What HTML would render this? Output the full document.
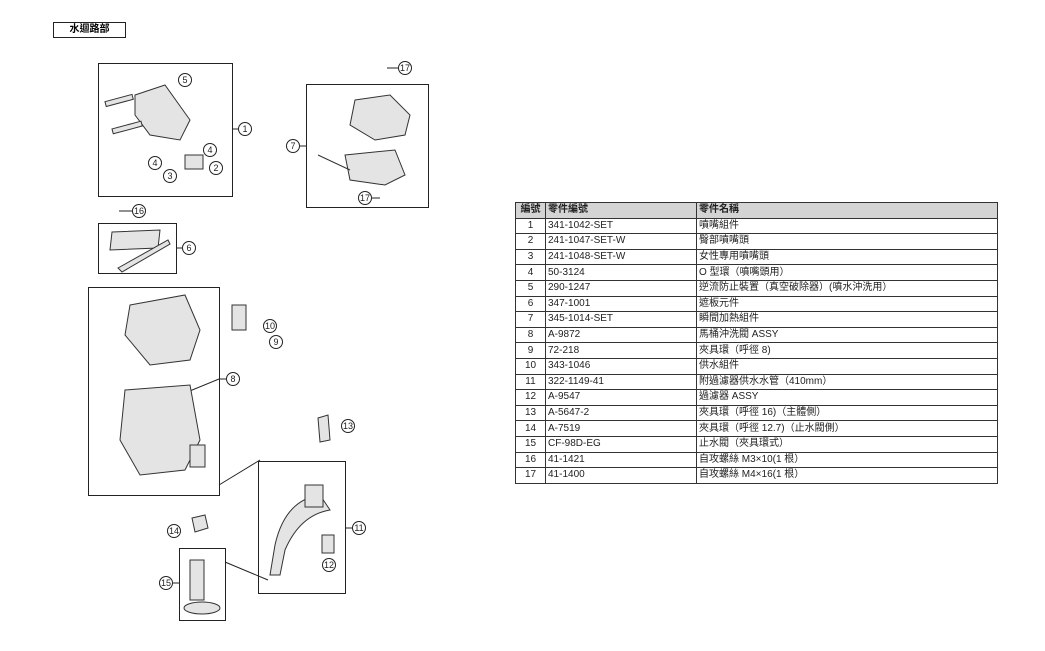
<!DOCTYPE html>
<html><head><meta charset="utf-8"><style>
body{margin:0;background:#fff;width:1045px;height:651px;position:relative;overflow:hidden;font-family:"Liberation Sans","Noto Sans CJK TC",sans-serif}
.t{position:absolute;left:515px;top:202px;border-collapse:collapse;font-size:10px;color:#222}
.t td{border:1px solid #333;height:14.6px;padding:0 2px;line-height:14px;white-space:nowrap;vertical-align:middle}
.t tr:first-child td{background:#d4d4d4;font-weight:bold}
.t td:nth-child(1){width:25px;text-align:center}
.t td:nth-child(2){width:146px}
.t td:nth-child(3){width:296px}
</style></head><body>
<div style="position:absolute;left:53px;top:22px;width:71px;height:14px;border:1px solid #222;font-size:10px;line-height:14px;text-align:center;font-weight:bold">水迴路部</div>
<svg width="1045" height="651" style="position:absolute;left:0;top:0" font-family="Liberation Sans" font-size="9" text-anchor="middle">
<g fill="none" stroke="#222" stroke-width="1">
<rect x="98.5" y="63.5" width="134" height="133"/>
<rect x="306.5" y="84.5" width="122" height="123"/>
<rect x="98.5" y="223.5" width="78" height="50"/>
<rect x="88.5" y="287.5" width="131" height="208"/>
<rect x="258.5" y="461.5" width="87" height="132"/>
<rect x="179.5" y="548.5" width="46" height="72"/>
<line x1="232" y1="129" x2="238" y2="129"/><line x1="300" y1="146" x2="306" y2="146"/>
<line x1="176" y1="248" x2="182" y2="248"/><line x1="219" y1="379" x2="226" y2="379"/>
<line x1="345" y1="528" x2="352" y2="528"/><line x1="173" y1="583" x2="179" y2="583"/>
<line x1="119" y1="211" x2="132" y2="211"/><line x1="387" y1="68" x2="399" y2="68"/>
<line x1="372" y1="198" x2="380" y2="198"/>
<line x1="219" y1="379" x2="180" y2="395"/>
<line x1="225" y1="562" x2="268" y2="580"/>
<line x1="219" y1="485" x2="260" y2="460"/>
</g>
<g fill="#fff" stroke="#222">
<circle cx="245" cy="129" r="6.5"/><circle cx="293" cy="146" r="6.5"/><circle cx="189" cy="248" r="6.5"/>
<circle cx="233" cy="379" r="6.5"/><circle cx="359" cy="528" r="6.5"/><circle cx="166" cy="583" r="6.5"/>
<circle cx="139" cy="211" r="6.5"/><circle cx="405" cy="68" r="6.5"/><circle cx="365" cy="198" r="6.5"/>
<circle cx="185" cy="80" r="6.5"/><circle cx="210" cy="150" r="6.5"/><circle cx="155" cy="163" r="6.5"/>
<circle cx="216" cy="168" r="6.5"/><circle cx="170" cy="176" r="6.5"/>
<circle cx="270" cy="326" r="6.5"/><circle cx="276" cy="342" r="6.5"/><circle cx="348" cy="426" r="6.5"/>
<circle cx="329" cy="565" r="6.5"/><circle cx="174" cy="531" r="6.5"/>
</g>
<g fill="#222">
<text x="245" y="132">1</text><text x="293" y="149">7</text><text x="189" y="251">6</text><text x="233" y="382">8</text>
<text x="359" y="531">11</text><text x="166" y="586">15</text><text x="139" y="214">16</text><text x="405" y="71">17</text>
<text x="365" y="201">17</text><text x="185" y="83">5</text><text x="210" y="153">4</text><text x="155" y="166">4</text>
<text x="216" y="171">2</text><text x="170" y="179">3</text><text x="270" y="329">10</text><text x="276" y="345">9</text>
<text x="348" y="429">13</text><text x="329" y="568">12</text><text x="174" y="534">14</text>
</g>
<g fill="#e4e4e4" stroke="#333" stroke-width="1">
<path d="M135 95 L165 85 L190 120 L180 140 L150 135 L135 115Z"/>
<rect x="105" y="98" width="28" height="5" transform="rotate(-15 119 100)"/>
<rect x="112" y="125" width="30" height="5" transform="rotate(-15 127 127)"/>
<rect x="185" y="155" width="18" height="14"/>
<path d="M355 100 L390 95 L410 115 L405 135 L375 140 L350 125Z"/>
<path d="M345 155 L395 150 L405 175 L385 185 L350 180Z"/>
<line x1="318" y1="155" x2="350" y2="170"/>
<path d="M112 232 L160 230 L158 248 L110 250Z"/>
<path d="M118 268 L168 240 L170 244 L122 272Z"/>
<path d="M130 305 L185 295 L200 330 L190 360 L150 365 L125 335Z"/>
<path d="M125 390 L190 385 L200 440 L185 470 L140 475 L120 440Z"/>
<rect x="190" y="445" width="15" height="22"/>
<rect x="232" y="305" width="14" height="25"/>
<path d="M275 545 Q285 500 320 495 L330 510 Q300 515 285 550 L280 575 L270 575Z"/>
<rect x="305" y="485" width="18" height="22"/>
<rect x="322" y="535" width="12" height="18"/>
<rect x="190" y="560" width="14" height="40"/>
<ellipse cx="202" cy="608" rx="18" ry="6"/>
<path d="M192 518 L205 515 L208 528 L195 532Z"/>
<path d="M318 418 L328 415 L330 440 L320 442Z"/>
</g>
</svg>
<table class="t">
<tr><td>編號</td><td>零件編號</td><td>零件名稱</td></tr>
<tr><td>1</td><td>341-1042-SET</td><td>噴嘴組件</td></tr>
<tr><td>2</td><td>241-1047-SET-W</td><td>臀部噴嘴頭</td></tr>
<tr><td>3</td><td>241-1048-SET-W</td><td>女性專用噴嘴頭</td></tr>
<tr><td>4</td><td>50-3124</td><td>O 型環（噴嘴頭用）</td></tr>
<tr><td>5</td><td>290-1247</td><td>逆流防止裝置（真空破除器）(噴水沖洗用）</td></tr>
<tr><td>6</td><td>347-1001</td><td>遮板元件</td></tr>
<tr><td>7</td><td>345-1014-SET</td><td>瞬間加熱組件</td></tr>
<tr><td>8</td><td>A-9872</td><td>馬桶沖洗閥 ASSY</td></tr>
<tr><td>9</td><td>72-218</td><td>夾具環（呼徑 8)</td></tr>
<tr><td>10</td><td>343-1046</td><td>供水組件</td></tr>
<tr><td>11</td><td>322-1149-41</td><td>附過濾器供水水管（410mm）</td></tr>
<tr><td>12</td><td>A-9547</td><td>過濾器 ASSY</td></tr>
<tr><td>13</td><td>A-5647-2</td><td>夾具環（呼徑 16)（主體側）</td></tr>
<tr><td>14</td><td>A-7519</td><td>夾具環（呼徑 12.7)（止水閥側）</td></tr>
<tr><td>15</td><td>CF-98D-EG</td><td>止水閥（夾具環式）</td></tr>
<tr><td>16</td><td>41-1421</td><td>自攻螺絲 M3×10(1 根）</td></tr>
<tr><td>17</td><td>41-1400</td><td>自攻螺絲 M4×16(1 根）</td></tr>
</table>
</body></html>
